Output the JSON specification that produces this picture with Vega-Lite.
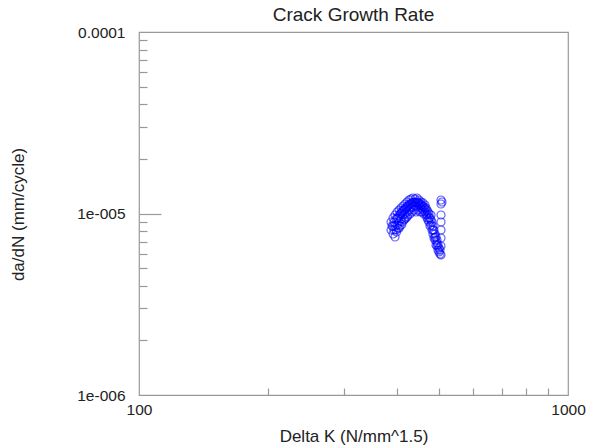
{
  "$schema": "https://vega.github.io/schema/vega-lite/v6.json",
  "width": 429,
  "height": 363,
  "autosize": "none",
  "padding": {"left": 139, "top": 32, "right": 30, "bottom": 53},
  "background": "white",
  "title": {"text": "Crack Growth Rate", "font": "Liberation Sans", "fontSize": 19, "fontWeight": "normal", "color": "#222", "offset": 0},
  "config": {
    "view": {"stroke": "#999", "strokeWidth": 1.2},
    "axis": {"grid": false, "domain": false, "labelFont": "Liberation Sans", "titleFont": "Liberation Sans", "labelFontSize": 15.5, "titleFontSize": 17, "titleFontWeight": "normal", "labelColor": "#222", "titleColor": "#222", "tickColor": "#999", "tickWidth": 1.2}
  },
  "data": {"values": [
    {"dk": 386.8, "rate": 8.98e-6}, {"dk": 386.8, "rate": 8.11e-6},
    {"dk": 388.9, "rate": 8.53e-6},
    {"dk": 391.0, "rate": 9.45e-6}, {"dk": 391.0, "rate": 7.71e-6}, {"dk": 391.0, "rate": 8.5e-6},
    {"dk": 393.0, "rate": 8.98e-6}, {"dk": 393.0, "rate": 8.11e-6},
    {"dk": 395.2, "rate": 9.81e-6}, {"dk": 395.2, "rate": 8.53e-6}, {"dk": 395.2, "rate": 7.42e-6},
    {"dk": 397.3, "rate": 9.33e-6}, {"dk": 397.3, "rate": 8.11e-6},
    {"dk": 398.5, "rate": 7.9e-6},
    {"dk": 399.5, "rate": 1.019e-5}, {"dk": 399.5, "rate": 8.64e-6}, {"dk": 399.5, "rate": 9.4e-6},
    {"dk": 401.6, "rate": 9.45e-6}, {"dk": 401.6, "rate": 8.32e-6},
    {"dk": 403.8, "rate": 1.045e-5}, {"dk": 403.8, "rate": 8.98e-6}, {"dk": 403.8, "rate": 9.7e-6},
    {"dk": 404.0, "rate": 8.3e-6},
    {"dk": 406.0, "rate": 9.94e-6}, {"dk": 406.0, "rate": 8.53e-6},
    {"dk": 408.2, "rate": 1.072e-5}, {"dk": 408.2, "rate": 9.33e-6}, {"dk": 408.2, "rate": 1.0e-5},
    {"dk": 410.0, "rate": 8.7e-6},
    {"dk": 410.4, "rate": 1.019e-5}, {"dk": 410.4, "rate": 8.98e-6},
    {"dk": 412.6, "rate": 1.100e-5}, {"dk": 412.6, "rate": 9.81e-6}, {"dk": 412.6, "rate": 1.04e-5},
    {"dk": 414.8, "rate": 1.045e-5}, {"dk": 414.8, "rate": 9.21e-6},
    {"dk": 416.0, "rate": 9.3e-6},
    {"dk": 416.9, "rate": 1.128e-5}, {"dk": 416.9, "rate": 9.94e-6}, {"dk": 416.9, "rate": 1.06e-5},
    {"dk": 419.3, "rate": 1.072e-5}, {"dk": 419.3, "rate": 9.45e-6},
    {"dk": 421.5, "rate": 1.157e-5}, {"dk": 421.5, "rate": 1.019e-5}, {"dk": 421.5, "rate": 1.09e-5},
    {"dk": 422.0, "rate": 9.6e-6},
    {"dk": 423.6, "rate": 1.100e-5}, {"dk": 423.6, "rate": 9.81e-6},
    {"dk": 426.0, "rate": 1.187e-5}, {"dk": 426.0, "rate": 1.045e-5}, {"dk": 426.0, "rate": 1.11e-5},
    {"dk": 428.3, "rate": 1.128e-5}, {"dk": 428.3, "rate": 9.94e-6},
    {"dk": 430.5, "rate": 1.202e-5}, {"dk": 430.5, "rate": 1.072e-5}, {"dk": 430.5, "rate": 1.13e-5},
    {"dk": 432.9, "rate": 1.143e-5}, {"dk": 432.9, "rate": 1.019e-5},
    {"dk": 435.2, "rate": 1.217e-5}, {"dk": 435.2, "rate": 1.086e-5}, {"dk": 435.2, "rate": 1.15e-5},
    {"dk": 437.5, "rate": 1.157e-5}, {"dk": 437.5, "rate": 1.045e-5},
    {"dk": 440.0, "rate": 1.202e-5}, {"dk": 440.0, "rate": 1.100e-5}, {"dk": 440.0, "rate": 1.15e-5},
    {"dk": 442.3, "rate": 1.143e-5}, {"dk": 442.3, "rate": 1.019e-5},
    {"dk": 444.6, "rate": 1.217e-5}, {"dk": 444.6, "rate": 1.086e-5}, {"dk": 444.6, "rate": 1.15e-5},
    {"dk": 447.0, "rate": 1.157e-5}, {"dk": 447.0, "rate": 1.045e-5},
    {"dk": 449.4, "rate": 1.187e-5}, {"dk": 449.4, "rate": 1.100e-5}, {"dk": 449.4, "rate": 1.14e-5},
    {"dk": 451.9, "rate": 1.128e-5}, {"dk": 451.9, "rate": 1.019e-5},
    {"dk": 454.3, "rate": 1.157e-5}, {"dk": 454.3, "rate": 1.072e-5}, {"dk": 454.3, "rate": 1.11e-5},
    {"dk": 456.8, "rate": 1.114e-5}, {"dk": 456.8, "rate": 1.019e-5},
    {"dk": 459.2, "rate": 1.143e-5}, {"dk": 459.2, "rate": 1.045e-5}, {"dk": 459.2, "rate": 1.09e-5},
    {"dk": 461.7, "rate": 1.086e-5}, {"dk": 461.7, "rate": 9.94e-6},
    {"dk": 464.2, "rate": 1.114e-5}, {"dk": 464.2, "rate": 1.019e-5}, {"dk": 464.2, "rate": 1.06e-5},
    {"dk": 466.7, "rate": 1.072e-5}, {"dk": 466.7, "rate": 9.81e-6},
    {"dk": 469.2, "rate": 1.045e-5}, {"dk": 469.2, "rate": 9.45e-6}, {"dk": 469.2, "rate": 9.9e-6},
    {"dk": 471.8, "rate": 1.019e-5}, {"dk": 471.8, "rate": 9.21e-6},
    {"dk": 474.2, "rate": 9.94e-6}, {"dk": 474.2, "rate": 8.98e-6}, {"dk": 474.2, "rate": 9.45e-6},
    {"dk": 476.8, "rate": 9.45e-6}, {"dk": 476.8, "rate": 8.53e-6},
    {"dk": 479.4, "rate": 9.81e-6}, {"dk": 479.4, "rate": 8.64e-6}, {"dk": 479.4, "rate": 9.2e-6},
    {"dk": 481.9, "rate": 8.98e-6}, {"dk": 481.9, "rate": 8.11e-6},
    {"dk": 484.5, "rate": 8.53e-6}, {"dk": 484.5, "rate": 7.71e-6}, {"dk": 484.5, "rate": 8.1e-6},
    {"dk": 487.1, "rate": 8.11e-6}, {"dk": 487.1, "rate": 7.33e-6},
    {"dk": 489.8, "rate": 7.71e-6}, {"dk": 489.8, "rate": 7.14e-6}, {"dk": 489.8, "rate": 7.4e-6},
    {"dk": 492.4, "rate": 7.42e-6}, {"dk": 492.4, "rate": 6.71e-6},
    {"dk": 495.0, "rate": 7.14e-6}, {"dk": 495.0, "rate": 6.62e-6}, {"dk": 495.0, "rate": 6.9e-6},
    {"dk": 497.7, "rate": 6.71e-6}, {"dk": 497.7, "rate": 6.29e-6},
    {"dk": 500.4, "rate": 6.45e-6}, {"dk": 500.4, "rate": 6.14e-6},
    {"dk": 503.1, "rate": 6.29e-6}, {"dk": 503.1, "rate": 5.98e-6},
    {"dk": 505.8, "rate": 1.187e-5}, {"dk": 505.8, "rate": 1.128e-5},
    {"dk": 505.8, "rate": 9.81e-6}, {"dk": 505.8, "rate": 8.98e-6},
    {"dk": 505.8, "rate": 8.11e-6}, {"dk": 505.8, "rate": 7.33e-6},
    {"dk": 505.8, "rate": 6.62e-6}, {"dk": 505.8, "rate": 5.91e-6},
    {"dk": 508.5, "rate": 1.157e-5}
  ]},
  "resolve": {"axis": {"x": "independent", "y": "independent"}},
  "layer": [
    {
      "mark": {"type": "point", "shape": "circle", "filled": false, "stroke": "#0000ff", "strokeWidth": 1.2, "opacity": 0.6, "size": 64},
      "encoding": {
        "x": {"field": "dk", "type": "quantitative",
          "scale": {"type": "log", "domain": [100, 1000], "nice": false},
          "axis": {"orient": "bottom", "values": [100, 1000], "ticks": false, "labelPadding": 7, "labelFlush": false, "labelOverlap": false, "labelExpr": "datum.value > 500 ? '1000' : '100'", "title": "Delta K (N/mm^1.5)", "titleY": 41, "titleBaseline": "middle"}},
        "y": {"field": "rate", "type": "quantitative",
          "scale": {"type": "log", "domain": [1e-6, 1e-4], "nice": false},
          "axis": {"orient": "left", "values": [1e-6, 1e-5, 1e-4], "ticks": false, "labelPadding": 14, "labelFlush": false, "labelOverlap": false, "labelExpr": "datum.value > 5e-5 ? '0.0001' : (datum.value > 5e-6 ? '1e-005' : '1e-006')", "title": "da/dN (mm/cycle)", "titleX": -121, "titleY": 182, "titleBaseline": "middle"}}
      }
    },
    {
      "mark": {"type": "point", "opacity": 0},
      "encoding": {
        "x": {"field": "dk", "type": "quantitative",
          "axis": {"orient": "bottom", "values": [200, 300, 400, 500, 600, 700, 800, 900], "labels": false, "tickSize": -7, "title": null}},
        "y": {"field": "rate", "type": "quantitative",
          "axis": {"orient": "left", "values": [1e-5], "labels": false, "tickSize": -22, "title": null}}
      }
    },
    {
      "mark": {"type": "point", "opacity": 0},
      "encoding": {
        "x": {"field": "dk", "type": "quantitative", "axis": null},
        "y": {"field": "rate", "type": "quantitative",
          "axis": {"orient": "left", "values": [2e-6, 3e-6, 4e-6, 5e-6, 6e-6, 7e-6, 8e-6, 9e-6, 2e-5, 3e-5, 4e-5, 5e-5, 6e-5, 7e-5, 8e-5, 9e-5], "labels": false, "tickSize": -8, "title": null}}
      }
    }
  ]
}
